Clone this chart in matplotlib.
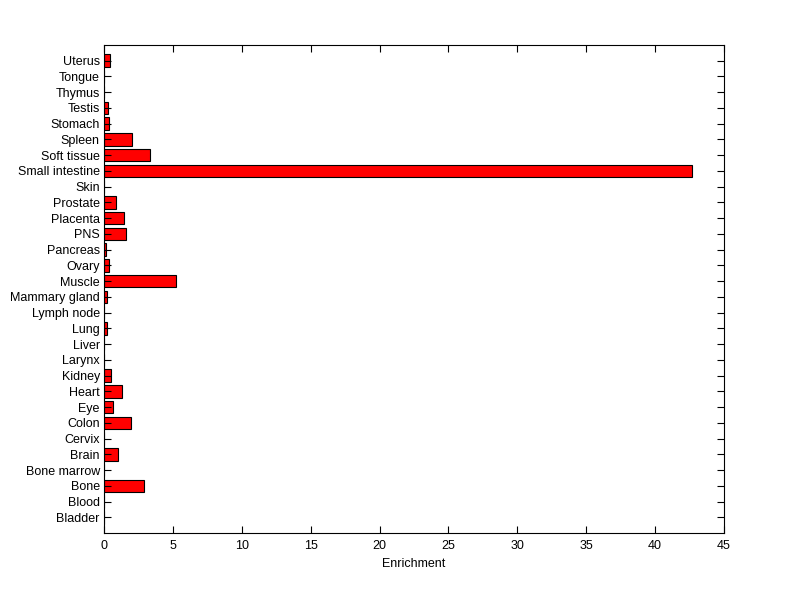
import matplotlib
matplotlib.use('Agg')
import matplotlib.pyplot as plt
import numpy as np

# tissue categories, bottom to top
tissues = ['Bladder', 'Blood', 'Bone', 'Bone marrow', 'Brain', 'Cervix', 'Colon',
           'Eye', 'Heart', 'Kidney', 'Larynx', 'Liver', 'Lung', 'Lymph node',
           'Mammary gland', 'Muscle', 'Ovary', 'Pancreas', 'PNS', 'Placenta',
           'Prostate', 'Skin', 'Small intestine', 'Soft tissue', 'Spleen',
           'Stomach', 'Testis', 'Thymus', 'Tongue', 'Uterus']
enrichment = [0, 0, 2.91, 0, 1.05, 0, 1.99,
              0.68, 1.34, 0.54, 0, 0, 0.22, 0,
              0.22, 5.19, 0.39, 0.15, 1.63, 1.45,
              0.87, 0, 42.7, 3.37, 2.06,
              0.39, 0.29, 0, 0, 0.44]
x_ticks = [0, 5, 10, 15, 20, 25, 30, 35, 40, 45]

plt.rcParams['font.family'] = ['Liberation Sans', 'DejaVu Sans']

fig = plt.figure(figsize=(8, 5.99), dpi=100)
ax = fig.add_axes([0.13, 0.11, 0.775, 0.815])

pos = np.arange(1, len(tissues) + 1)
ax.barh(pos, enrichment, height=0.8, color='red', edgecolor='black', linewidth=0.8)

ax.set_xlim(0, 45)
ax.set_ylim(0, len(tissues) + 1)
ax.set_xticks(x_ticks)
ax.set_xticklabels([str(t) for t in x_ticks], fontsize=9)
ax.set_yticks(pos)
ax.set_yticklabels(tissues, fontsize=9)
ax.set_xlabel('Enrichment', fontsize=9, labelpad=4)

ax.tick_params(direction='in', length=5, width=0.8, top=True, right=True)
ax.tick_params(axis='y', pad=3)
ax.tick_params(axis='x', pad=5)
for s in ax.spines.values():
    s.set_linewidth(0.8)

fig.savefig('out.png', dpi=100, facecolor='white')
